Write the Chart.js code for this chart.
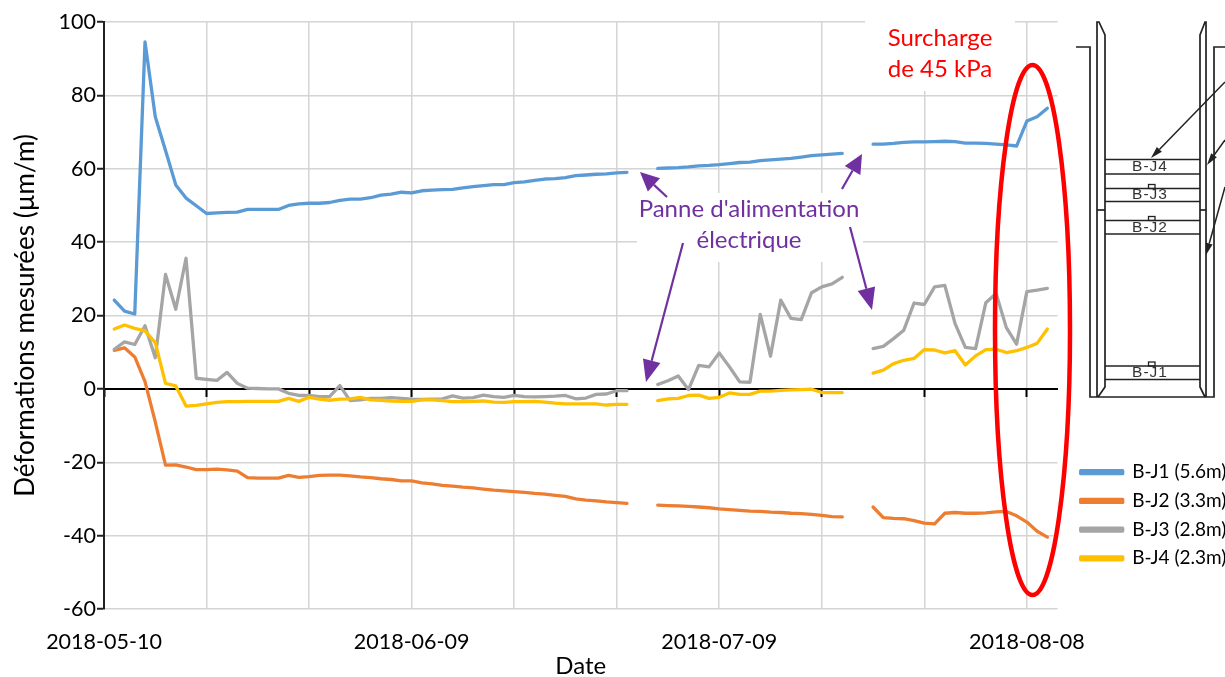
<!DOCTYPE html>
<html>
<head>
<meta charset="utf-8">
<script src="https://cdn.jsdelivr.net/npm/chart.js@4"></script>
<style>
    html, body { margin: 0; padding: 0; background: #fff; }
    canvas { display: block; }
</style>
</head>
<body>
<canvas id="deformationChart" width="1225" height="677"></canvas>
<script>
//Values, one per day, null where the power was out
const sensorNames = ["B-J1 (5.6m)", "B-J2 (3.3m)", "B-J3 (2.8m)", "B-J4 (2.3m)"];
const tickLabels = ["2018-05-10", "2018-06-09", "2018-07-09", "2018-08-08"];
const yTicks = [-60, -40, -20, 0, 20, 40, 60, 80, 100];

const bj1 = [null,
    24.2, 21.2, 20.4, 94.6, 74.2, 65, 55.6, 52, 49.9, 47.8,
    48, 48.1, 48.2, 48.9, 48.9, 48.9, 48.9, 50, 50.4, 50.6,
    50.6, 50.8, 51.4, 51.7, 51.7, 52.1, 52.8, 53.1, 53.6, 53.4,
    54, 54.2, 54.3, 54.4, 54.8, 55.1, 55.4, 55.7, 55.7, 56.2,
    56.4, 56.8, 57.2, 57.3, 57.6, 58.1, 58.3, 58.5, 58.6, 58.9, 59,
    null, null,
    60.1, 60.2, 60.3, 60.5, 60.8, 60.9, 61.1, 61.4, 61.7, 61.8,
    62.2, 62.4, 62.6, 62.8, 63.2, 63.6, 63.8, 64, 64.2,
    null, null,
    66.7, 66.7, 66.9, 67.2, 67.3, 67.3, 67.4, 67.5, 67.4, 67,
    67, 66.9, 66.7, 66.5, 66.2, 73, 74.2, 76.5,
    null];
const bj2 = [null,
    10.5, 11.2, 8.7, 2, -9, -20.8, -20.7, -21.3, -22, -22,
    -21.9, -22.1, -22.4, -24.2, -24.3, -24.3, -24.3, -23.6, -24.1, -23.9,
    -23.6, -23.5, -23.5, -23.7, -24, -24.2, -24.5, -24.7, -25.1, -25.1,
    -25.6, -25.9, -26.3, -26.5, -26.8, -27, -27.3, -27.6, -27.8, -28,
    -28.2, -28.5, -28.7, -29, -29.3, -30, -30.3, -30.5, -30.8, -31, -31.2,
    null, null,
    -31.7, -31.8, -31.9, -32, -32.2, -32.4, -32.7, -32.9, -33.1, -33.3,
    -33.4, -33.6, -33.7, -33.9, -34, -34.2, -34.5, -34.8, -34.9,
    null, null,
    -32.2, -35.1, -35.3, -35.4, -35.9, -36.6, -36.8, -33.9, -33.7, -33.9,
    -33.9, -33.8, -33.5, -33.4, -34.6, -36.3, -38.8, -40.4,
    null];
const bj3 = [null,
    10.8, 12.8, 12.1, 17.2, 8.5, 31.2, 21.7, 35.6, 2.9, 2.6,
    2.3, 4.5, 1.5, 0.2, 0.1, 0, 0, -1.2, -1.8, -1.8,
    -2.1, -2.1, 0.9, -3.2, -3, -2.6, -2.6, -2.4, -2.6, -2.8,
    -2.9, -2.8, -2.7, -1.9, -2.5, -2.4, -1.7, -2.1, -2.3, -1.8,
    -2.1, -2.2, -2.1, -2, -1.8, -2.7, -2.5, -1.5, -1.4, -0.5, -0.5,
    null, null,
    1.2, 2.2, 3.5, -0.2, 6.4, 6, 9.8, 6, 1.9, 1.8,
    20.3, 8.9, 24.2, 19.2, 18.9, 26.2, 27.8, 28.6, 30.4,
    null, null,
    11, 11.6, 13.7, 16, 23.4, 23, 27.8, 28.2, 17.8, 11.3,
    11, 23.5, 26, 16.7, 12.2, 26.5, 26.9, 27.4,
    null];
const bj4 = [null,
    16.3, 17.4, 16.5, 15.8, 12.6, 1.5, 0.8, -4.7, -4.5, -4.1,
    -3.7, -3.5, -3.5, -3.4, -3.4, -3.4, -3.4, -2.6, -3.4, -2.3,
    -2.8, -3.1, -2.8, -2.7, -2.3, -3, -3.1, -3.3, -3.4, -3.4,
    -3, -3, -3.2, -3.5, -3.5, -3.4, -3.3, -3.6, -3.7, -3.5,
    -3.5, -3.4, -3.6, -3.9, -4.1, -4.1, -4.1, -4.1, -4.4, -4.2, -4.2,
    null, null,
    -3.2, -2.7, -2.6, -1.8, -1.7, -2.6, -2.3, -1.1, -1.5, -1.5,
    -0.6, -0.6, -0.4, -0.3, -0.2, -0.1, -1, -1, -1,
    null, null,
    4.3, 5.1, 6.9, 7.8, 8.3, 10.7, 10.6, 9.8, 10.4, 6.5,
    9, 10.7, 10.8, 9.9, 10.4, 11.3, 12.4, 16.3,
    null];

//One category per day, from 2018-05-10
const days = [];
for (let i = 0; i < bj1.length; i++) {
    const d = new Date(Date.UTC(2018, 4, 10 + i));
    days.push(d.toISOString().slice(0, 10));
}

const fontName = "Lato";
const gridColor = "#d4d4d4";

//Arrow with a filled head
function drawArrow(ctx, x1, y1, x2, y2, color, width, headLen, headHalf) {
    const a = Math.atan2(y2 - y1, x2 - x1);
    const bx = x2 - Math.cos(a) * headLen;
    const by = y2 - Math.sin(a) * headLen;
    ctx.strokeStyle = color;
    ctx.fillStyle = color;
    ctx.lineWidth = width;
    ctx.beginPath();
    ctx.moveTo(x1, y1);
    ctx.lineTo(bx, by);
    ctx.stroke();
    ctx.beginPath();
    ctx.moveTo(x2, y2);
    ctx.lineTo(bx - Math.sin(a) * headHalf, by + Math.cos(a) * headHalf);
    ctx.lineTo(bx + Math.sin(a) * headHalf, by - Math.cos(a) * headHalf);
    ctx.closePath();
    ctx.fill();
}

function drawPolyline(ctx, pts) {
    ctx.beginPath();
    ctx.moveTo(pts[0][0], pts[0][1]);
    for (let i = 1; i < pts.length; i++) ctx.lineTo(pts[i][0], pts[i][1]);
    ctx.stroke();
}

//Section drawing of the wall on the right of the chart
function drawSchematic(ctx) {
    ctx.save();
    ctx.strokeStyle = "#222";
    ctx.lineWidth = 1.7;
    drawPolyline(ctx, [[1076, 47], [1090, 47], [1090, 397], [1214, 397], [1214, 47], [1225, 47]]);
    drawPolyline(ctx, [[1097, 397], [1097, 22], [1099, 22], [1105, 35], [1105, 387], [1098, 397]]);
    drawPolyline(ctx, [[1206, 397], [1206, 22], [1205, 22], [1200, 35], [1200, 387], [1205, 397]]);
    const plates = [159.5, 174, 188.5, 201.5, 220.5, 234, 366, 379.5];
    for (let i = 0; i < plates.length; i++) {
        drawPolyline(ctx, [[1105, plates[i]], [1200, plates[i]]]);
    }
    drawPolyline(ctx, [[1097, 210], [1105, 210]]);
    drawPolyline(ctx, [[1200, 210], [1206, 210]]);
    ctx.lineWidth = 1.3;
    [188.5, 220.5, 366].forEach(function (y) {
        ctx.strokeRect(1148.5, y - 4, 6.5, 4);
    });

    ctx.fillStyle = "#333";
    ctx.font = "15.5px 'Liberation Sans'";
    ctx.letterSpacing = "1px";
    ctx.textAlign = "center";
    ctx.textBaseline = "middle";
    ctx.fillText("B-J4", 1150, 167);
    ctx.fillText("B-J3", 1150, 195);
    ctx.fillText("B-J2", 1150, 228);
    ctx.fillText("B-J1", 1150, 373);
    ctx.letterSpacing = "0px";

    drawArrow(ctx, 1225, 82, 1151, 158, "#222", 1.5, 12, 3.5);
    drawArrow(ctx, 1225, 140, 1207, 165, "#222", 1.5, 12, 3.5);
    drawArrow(ctx, 1225, 187, 1206, 255, "#222", 1.5, 12, 3.5);
    ctx.restore();
}

const annotationPlugin = {
    id: "annotations",
    //White label backgrounds hide the gridlines under them
    beforeDatasetsDraw(chart) {
        const ctx = chart.ctx;
        ctx.save();
        ctx.fillStyle = "#fff";
        ctx.fillRect(637, 193, 226, 69);
        ctx.fillRect(865, 18, 150, 73);
        ctx.restore();
    },
    afterDraw(chart) {
        const ctx = chart.ctx;
        ctx.save();

        ctx.textAlign = "center";
        ctx.textBaseline = "middle";
        ctx.font = "24px " + fontName;
        ctx.fillStyle = "#7030a0";
        ctx.fillText("Panne d'alimentation", 749, 209);
        ctx.fillText("électrique", 749, 240);
        ctx.fillStyle = "#ff0000";
        ctx.fillText("Surcharge", 940, 38);
        ctx.fillText("de 45 kPa", 940, 69);

        const purple = "#7030a0";
        drawArrow(ctx, 667, 197, 640, 172, purple, 2.2, 19, 9);
        drawArrow(ctx, 842, 189, 862, 154, purple, 2.2, 19, 9);
        drawArrow(ctx, 683, 243, 646, 382, purple, 2.2, 22, 9);
        drawArrow(ctx, 850, 227, 872, 310, purple, 2.2, 22, 9);

        ctx.strokeStyle = "#ff0000";
        ctx.lineWidth = 4.5;
        ctx.beginPath();
        ctx.ellipse(1032.5, 330, 37.5, 265, 0, 0, Math.PI * 2);
        ctx.stroke();

        drawSchematic(ctx);
        ctx.restore();
    },
    //Legend sits low on the right, below the drawing
    afterLayout(chart) {
        const lg = chart.legend;
        const w = lg.right - lg.left;
        const h = lg.bottom - lg.top;
        lg.left = 1071;
        lg.right = lg.left + w;
        lg.top = 453;
        lg.bottom = lg.top + h;
    }
};

const ctx = document.getElementById("deformationChart").getContext("2d");

const chartData = {
    labels: days,
    datasets: [
        { label: sensorNames[0], data: bj1, borderColor: "#5b9bd5", backgroundColor: "#5b9bd5", order: 4 },
        { label: sensorNames[1], data: bj2, borderColor: "#ed7d31", backgroundColor: "#ed7d31", order: 3 },
        { label: sensorNames[2], data: bj3, borderColor: "#a5a5a5", backgroundColor: "#a5a5a5", order: 2 },
        { label: sensorNames[3], data: bj4, borderColor: "#ffc000", backgroundColor: "#ffc000", order: 1 }
    ]
};

const chartOptions = {
    responsive: false,
    animation: false,
    layout: { padding: { top: 22, right: 2 } },
    elements: {
        line: { borderWidth: 3.3, tension: 0, borderCapStyle: "round", borderJoinStyle: "round" },
        point: { radius: 0 }
    },
    plugins: {
        legend: {
            position: "right",
            align: "start",
            labels: {
                color: "#000",
                font: { family: fontName, size: 19 },
                boxWidth: 42,
                boxHeight: 3,
                padding: 9.7,
                sort: function (a, b) { return a.datasetIndex - b.datasetIndex; }
            }
        },
        tooltip: { enabled: false }
    },
    scales: {
        //Bottom axis carries the date labels and the vertical gridlines
        x: {
            type: "category",
            offset: false,
            afterFit: function (scale) { scale.height = 68; },
            border: { display: false },
            grid: {
                drawTicks: false,
                color: function (c) { return c.index % 10 === 0 && c.index > 0 ? gridColor : "transparent"; },
                lineWidth: 1.5
            },
            ticks: {
                autoSkip: false,
                maxRotation: 0,
                minRotation: 0,
                color: "#000",
                padding: 20,
                font: { family: fontName, size: 21.5 },
                callback: function (value, index) {
                    return index % 30 === 0 ? tickLabels[index / 30] : "";
                }
            },
            title: {
                display: true,
                text: "Date",
                color: "#000",
                font: { family: fontName, size: 24, lineHeight: 1 },
                padding: { top: 0, bottom: -1 }
            }
        },
        //Second axis only draws the line at zero with its tick marks
        xZero: {
            type: "category",
            axis: "x",
            labels: days,
            offset: false,
            position: { y: 0 },
            border: { display: true, color: "#000", width: 2 },
            grid: {
                drawOnChartArea: false,
                tickLength: 7,
                tickWidth: 2,
                tickColor: function (c) { return c.index % 10 === 0 ? "#000" : "transparent"; }
            },
            ticks: { display: false, autoSkip: false, maxRotation: 0 }
        },
        y: {
            min: -60,
            max: 100,
            afterBuildTicks: function (scale) {
                scale.ticks = yTicks.map(function (v) { return { value: v }; });
            },
            afterFit: function (scale) { scale.width = 104; },
            border: { display: true, color: "#222", width: 2 },
            grid: {
                color: gridColor,
                lineWidth: 1.5,
                tickLength: 7,
                tickColor: "#222",
                tickWidth: 2
            },
            ticks: {
                color: "#000",
                padding: 1,
                font: { family: fontName, size: 21.5 }
            },
            title: {
                display: true,
                text: "Déformations mesurées (µm/m)",
                color: "#000",
                font: { family: fontName, size: 26 },
                padding: { top: 10, bottom: 0 }
            }
        }
    }
};

new Chart(ctx, {
    type: "line",
    data: chartData,
    options: chartOptions,
    plugins: [annotationPlugin]
});
</script>
</body>
</html>
